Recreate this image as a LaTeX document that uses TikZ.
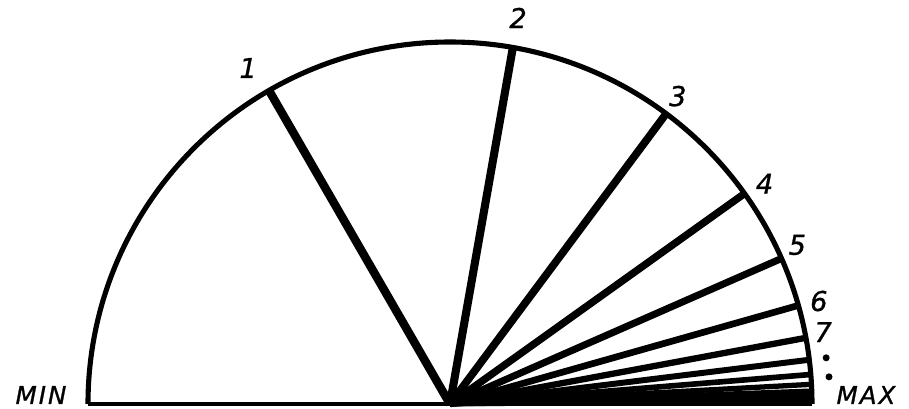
\documentclass[tikz,border=0pt]{standalone}
\usepackage{fontspec}
\setmainfont{DejaVu Sans}
\begin{document}
\begin{tikzpicture}
  \tikzstyle{rim}=[line width=2.9pt]
  \tikzstyle{base}=[line width=2pt]
  \tikzstyle{num}=[font=\itshape\fontsize{15.5}{16}\selectfont\addfontfeatures{FakeBold=1},inner sep=0pt]
  \tikzstyle{lim}=[font=\itshape\fontsize{14}{14}\selectfont\addfontfeatures{LetterSpace=8,FakeBold=1},inner sep=0pt]
  \tikzstyle{pt}=[circle,fill,inner sep=0pt,minimum size=1.4mm]
  \def\rad{7.24}

  \useasboundingbox (-9.0,-0.08) rectangle (9.18,8.08);

  \coordinate (o) at (0,0);
  \coordinate (mn) at (180:\rad);
  \coordinate (mx) at (0:\rad);

  % rays, each one 2/3 of the angle before
  \foreach \n in {1,...,18} {
    \pgfmathsetmacro\ang{180*(2/3)^\n}
    \pgfmathsetmacro\lw{max(5-0.2*\n,2.4)}
    \coordinate (e\n) at (\ang:\rad);
    \draw [line width=\lw pt] (o) -- (e\n);
  }
  \draw [rim] (mx) arc (0:180:\rad);
  \draw [base] (mn) -- (mx);

  \node [num] (l1) at (121:7.84) {1};
  \node [num] (l2) at (80:7.84) {2};
  \node [num] (l3) at (53.5:7.66) {3};
  \node [num] (l4) at (35:7.68) {4};
  \node [num] (l5) at (24.6:7.64) {5};
  \node [num] (l6) at (15.6:7.66) {6};
  \node [num] (l7) at (10.9:7.6) {7};
  \node [pt] (d8) at (7:7.58) {};
  \node [pt] (d9) at (4.1:7.6) {};

  \node [lim] (min) at (-8.18,0.18) {MIN};
  \node [lim] (max) at (8.32,0.18) {MAX};
\end{tikzpicture}
\end{document}
